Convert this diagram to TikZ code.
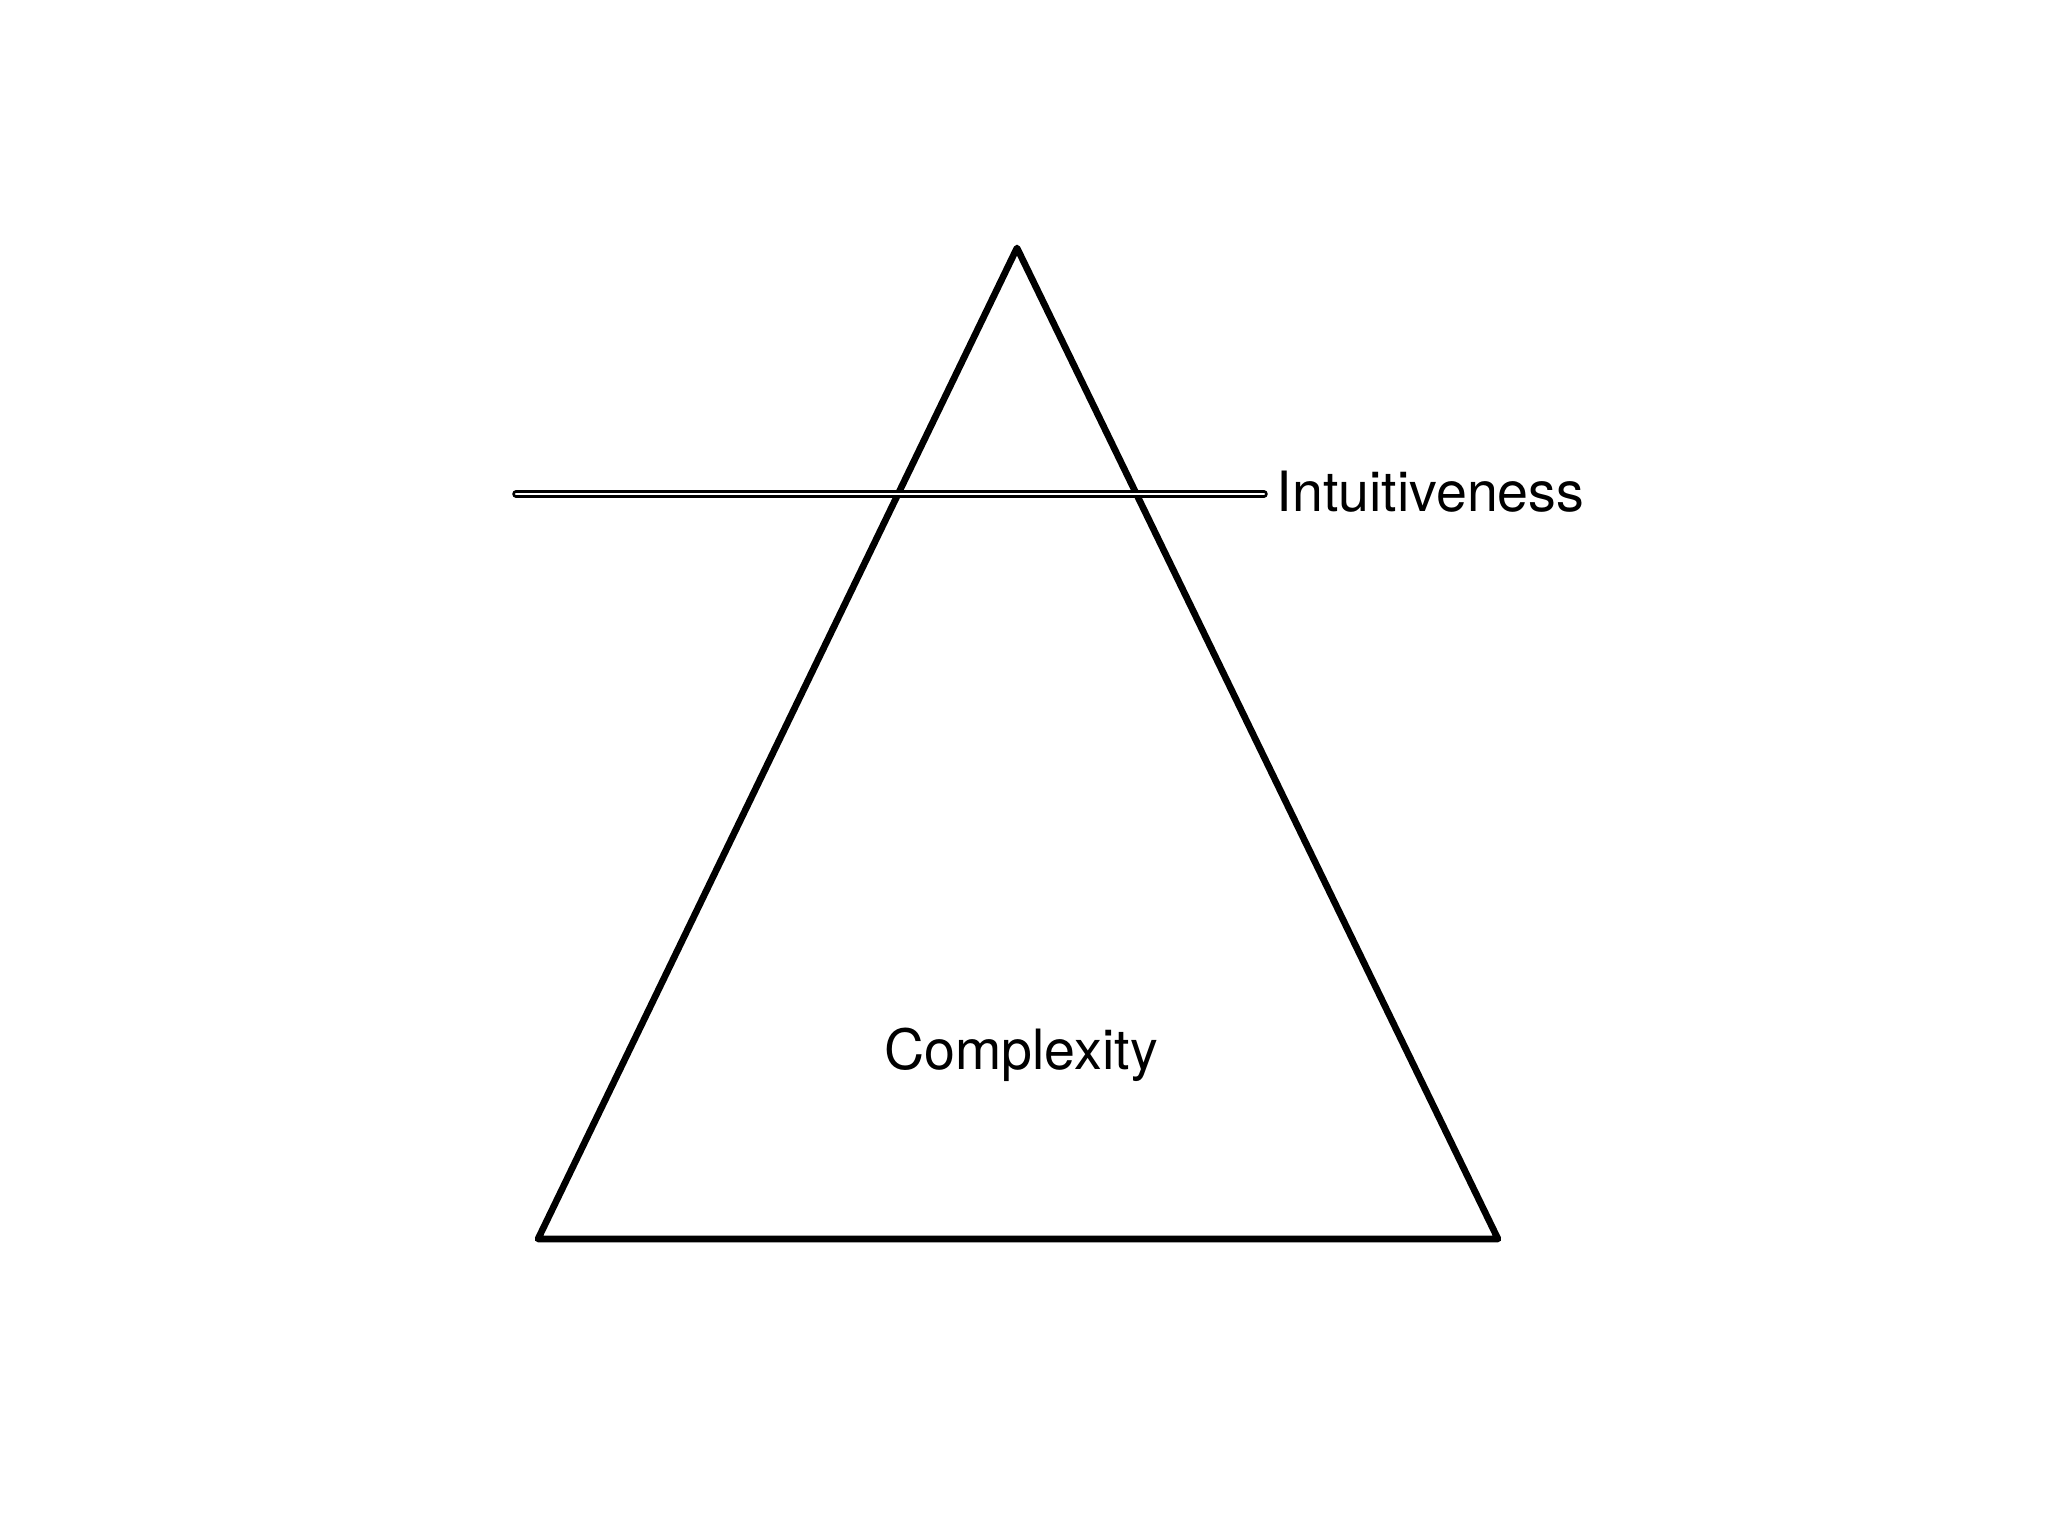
\documentclass[tikz,border=0pt]{standalone}
\usepackage{fontspec}
\setmainfont{TeX Gyre Heros}
\usepackage{tikz}
\usetikzlibrary{positioning, calc}
\tikzset{
	pyramidline/.style={line width=1.9pt, line join=round, line cap=round}
}
\tikzset{
	cutline/.style={double=white, double distance=0.65pt, line width=0.75pt, line cap=round}
}
\tikzset{
	labeltext/.style={font=\fontsize{15.8}{19}\selectfont, inner sep=0pt}
}

\begin{document}
\begin{tikzpicture}

			\useasboundingbox (0,0) rectangle (20.48,15.36);

			\begin{scope}
				\coordinate (apex) at (10.17,12.88);
				\coordinate (baseL) at (5.38,2.97);
				\coordinate (baseR) at (14.98,2.97);

				\draw[pyramidline] (apex) -- (baseR) -- (baseL) -- cycle;
			\end{scope}

			\begin{scope}
				\coordinate (cutL) at (5.16,10.42);
				\coordinate (cutR) at (12.64,10.42);

				\draw[cutline] (cutL) -- (cutR);
			\end{scope}

			\node[labeltext, anchor=base west] (intuit) at (12.76,10.24) {Intuitiveness};
			\node[labeltext, anchor=base] (complex) at (10.21,4.66) {Complexity};

		\end{tikzpicture}
\end{document}
